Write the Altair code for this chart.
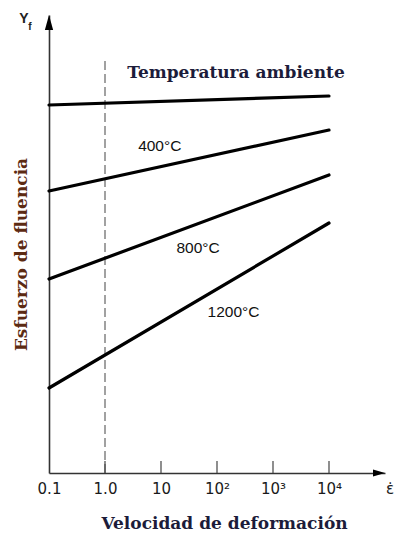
import altair as alt
import pandas as pd

# ---- data (stress in arbitrary units) ----
rate = [0.1, 1e4]
series = ["Temperatura ambiente", "400°C", "800°C", "1200°C"]
s_ambiente = [368, 377]
s_400 = [282, 343]
s_800 = [194, 298]
s_1200 = [85, 250]

tick_values = [0.1, 1, 10, 100, 1000, 10000]
tick_labels = ["0.1", "1.0", "10", "10²", "10³", "10⁴"]

label_text = ["400°C", "800°C", "1200°C"]
label_x = [9.5, 46, 197]
label_y = [327, 225, 161]

title_text = ["Temperatura ambiente"]
title_x = [218]
title_y = [400]

ref_rate = 1.0          # dashed reference line
ref_top = 415
tick_len = 12

X_MIN, X_MAX = 0.1, 1e5
Y_MIN, Y_MAX = 0, 458

# ---- tables ----
rows = []
for name, vals in zip(series, [s_ambiente, s_400, s_800, s_1200]):
    for r, v in zip(rate, vals):
        rows.append({"serie": name, "rate": r, "stress": v})
df = pd.DataFrame(rows)

df_lab = pd.DataFrame({"text": label_text, "rate": label_x, "stress": label_y})
df_title = pd.DataFrame({"text": title_text, "rate": title_x, "stress": title_y})
df_ticks = pd.DataFrame({"rate": tick_values[1:], "y0": 0, "y1": tick_len})
df_ref = pd.DataFrame({"rate": [ref_rate], "y0": [0], "y1": [ref_top]})

expr = " : ".join(
    f"datum.value == {v} ? '{t}'" for v, t in zip(tick_values[:-1], tick_labels[:-1])
) + f" : '{tick_labels[-1]}'"

xscale = alt.Scale(type="log", domain=[X_MIN, X_MAX], nice=False, zero=False)
yscale = alt.Scale(domain=[Y_MIN, Y_MAX], nice=False, zero=False)

x_axis = alt.Axis(
    values=tick_values, labelExpr=expr, ticks=False, grid=False,
    labelFont="DejaVu Sans", labelFontSize=15, labelColor="#1a1a1a",
    labelPadding=8, labelFlush=False, labelOverlap=False,
    domainColor="#333", domainWidth=1.6,
    title="Velocidad de deformación", titleFont="DejaVu Serif", titleFontSize=17,
    titleFontWeight="bold", titleColor="#1c1c3a", titleX=175, titleY=55,
    titleBaseline="alphabetic", titleAlign="center",
)
y_axis = alt.Axis(
    labels=False, ticks=False, grid=False,
    domainColor="#333", domainWidth=1.6,
    title="Esfuerzo de fluencia", titleFont="DejaVu Serif", titleFontSize=17,
    titleFontWeight="bold", titleColor="#5c2a12", titleAngle=-90,
    titleX=-28, titleY=239, titleBaseline="middle", titleAlign="center",
)

lines = alt.Chart(df).mark_line(color="black", strokeWidth=3.2, strokeCap="round").encode(
    x=alt.X("rate:Q", scale=xscale, axis=x_axis),
    y=alt.Y("stress:Q", scale=yscale, axis=y_axis),
    detail="serie:N",
)

ref = alt.Chart(df_ref).mark_rule(color="#555", strokeWidth=1.1, strokeDash=[9, 4]).encode(
    x=alt.X("rate:Q", scale=xscale), y=alt.Y("y0:Q", scale=yscale), y2="y1:Q"
)

ticks = alt.Chart(df_ticks).mark_rule(color="#444", strokeWidth=1.2).encode(
    x=alt.X("rate:Q", scale=xscale), y=alt.Y("y0:Q", scale=yscale), y2="y1:Q"
)

labels = alt.Chart(df_lab).mark_text(
    font="Liberation Sans", fontSize=15.5, color="#111", baseline="middle", align="center"
).encode(x=alt.X("rate:Q", scale=xscale), y=alt.Y("stress:Q", scale=yscale), text="text:N")

title_lab = alt.Chart(df_title).mark_text(
    font="DejaVu Serif", fontSize=17, fontWeight="bold", color="#1c1c3a",
    baseline="middle", align="center"
).encode(x=alt.X("rate:Q", scale=xscale), y=alt.Y("stress:Q", scale=yscale), text="text:N")

# axis arrow heads and axis symbols
arrow_up = alt.Chart(pd.DataFrame({"rate": [X_MIN], "stress": [450.5]})).mark_point(
    shape="M0,-1L0.55,1L-0.55,1Z", size=225, filled=True, color="black", opacity=1, clip=False
).encode(x=alt.X("rate:Q", scale=xscale), y=alt.Y("stress:Q", scale=yscale))

arrow_right = alt.Chart(pd.DataFrame({"rate": [78200], "stress": [0]})).mark_point(
    shape="M1,0L-1,-0.6L-1,0.6Z", size=144, filled=True, color="black", opacity=1, clip=False
).encode(x=alt.X("rate:Q", scale=xscale), y=alt.Y("stress:Q", scale=yscale))

sym_y = alt.Chart(pd.DataFrame({"rate": [0.0358], "stress": [450], "t": ["Y"]})).mark_text(
    font="Liberation Sans", fontSize=14, fontWeight="bold", color="#222",
    baseline="alphabetic", align="center", clip=False
).encode(x=alt.X("rate:Q", scale=xscale), y=alt.Y("stress:Q", scale=yscale), text="t:N")

sym_f = alt.Chart(pd.DataFrame({"rate": [0.0457], "stress": [443], "t": ["f"]})).mark_text(
    font="Liberation Sans", fontSize=10, fontWeight="bold", color="#222",
    baseline="alphabetic", align="center", clip=False
).encode(x=alt.X("rate:Q", scale=xscale), y=alt.Y("stress:Q", scale=yscale), text="t:N")

sym_e = alt.Chart(pd.DataFrame({"rate": [123000], "stress": [-21], "t": ["ε̇"]})).mark_text(
    font="DejaVu Sans", fontSize=15, color="#222",
    baseline="alphabetic", align="center", clip=False
).encode(x=alt.X("rate:Q", scale=xscale), y=alt.Y("stress:Q", scale=yscale), text="t:N")

chart = alt.layer(
    ref, ticks, lines, labels, title_lab, arrow_up, arrow_right, sym_y, sym_f, sym_e
).properties(
    width=336, height=458,
    autosize=alt.AutoSizeParams(type="none"),
    padding={"left": 49, "top": 15, "right": 9, "bottom": 65},
    background="white",
).configure_view(stroke=None)

chart.save("out.html", embed_options={"renderer": "svg", "actions": False})
